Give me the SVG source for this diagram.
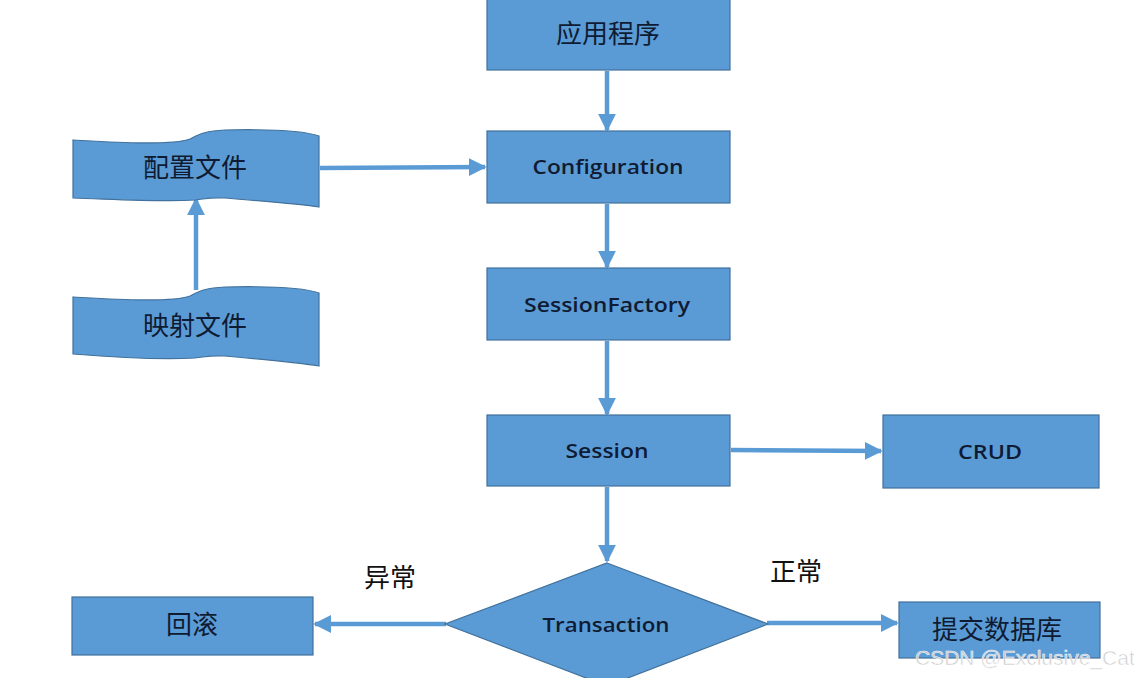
<svg xmlns="http://www.w3.org/2000/svg" width="1134" height="678" viewBox="0 0 1134 678">
<defs>
<marker id="ah" viewBox="0 0 10 10" refX="9" refY="5" markerWidth="4" markerHeight="4" orient="auto" markerUnits="strokeWidth">
<path d="M0,0 L10,5 L0,10 Z" fill="#5b9bd5"/>
</marker>
<style>
.box{fill:#5b9bd5;stroke:#41719c;stroke-width:1.2}
.cjk{font-family:"Noto Sans CJK SC","Noto Sans",sans-serif;font-size:26px;fill:#0f1b33;text-anchor:middle;dominant-baseline:central}
.en{font-family:"Open Sans","Lato",sans-serif;font-size:20px;font-weight:600;fill:#0f1b33;text-anchor:middle;dominant-baseline:central}
.lbl{font-family:"Noto Sans CJK SC","Noto Sans",sans-serif;font-size:26px;fill:#111;text-anchor:middle;dominant-baseline:central}
.conn{stroke:#5b9bd5;stroke-width:4.5;fill:none;marker-end:url(#ah)}
.wm{font-family:"Liberation Sans",Arial,sans-serif;font-size:21px;fill:#c8c8c8;stroke:#ffffff;stroke-width:0.6;opacity:0.9}
</style>
</defs>
<rect width="1134" height="678" fill="#ffffff"/>
<g id="connectors">
<line class="conn" x1="607" y1="71" x2="607" y2="130"/>
<line class="conn" x1="607" y1="204" x2="607" y2="267"/>
<line class="conn" x1="607" y1="341" x2="607" y2="414"/>
<line class="conn" x1="607" y1="487" x2="607" y2="561"/>
<line class="conn" x1="320" y1="168" x2="485" y2="167"/>
<line class="conn" x1="196" y1="290" x2="196" y2="199"/>
<line class="conn" x1="731" y1="450" x2="881" y2="451"/>
<line class="conn" x1="446" y1="624" x2="315" y2="624"/>
<line class="conn" x1="767" y1="623" x2="897" y2="623"/>
</g>
<g id="app"><rect class="box" x="487" y="-2" width="243" height="72"/><text class="cjk" x="608" y="31">应用程序</text></g>
<g id="configuration"><rect class="box" x="487" y="131" width="243" height="72"/><text class="en" x="608" y="166" textLength="151" lengthAdjust="spacingAndGlyphs">Configuration</text></g>
<g id="sessionfactory"><rect class="box" x="487" y="268" width="243" height="72"/><text class="en" x="607" y="304" textLength="166" lengthAdjust="spacingAndGlyphs">SessionFactory</text></g>
<g id="session"><rect class="box" x="487" y="415" width="243" height="71"/><text class="en" x="607" y="450" textLength="83" lengthAdjust="spacingAndGlyphs">Session</text></g>
<g id="crud"><rect class="box" x="883" y="415" width="216" height="73"/><text class="en" x="990" y="451" textLength="64" lengthAdjust="spacingAndGlyphs">CRUD</text></g>
<g id="config-file"><path class="box" d="M73,140 C110,142 170,146 190,139 C200,134 205,131 225,130 C270,129 305,131 319,136 L319,207 C300,204 260,201 225,198 C210,197 205,199 195,200 C160,202 110,199 73,198 Z"/><text class="cjk" x="195" y="165">配置文件</text></g>
<g id="mapping-file"><path class="box" d="M73,297 C110,299 170,303 190,296 C200,291 205,288 225,287 C270,286 305,288 319,293 L319,366 C300,363 260,359 225,356 C210,355 205,357 195,358 C160,360 110,357 73,354 Z"/><text class="cjk" x="195" y="323">映射文件</text></g>
<g id="transaction"><polygon class="box" points="607,563 768,624 607,686 445,624"/><text class="en" x="606" y="624" textLength="127" lengthAdjust="spacingAndGlyphs">Transaction</text></g>
<g id="rollback"><rect class="box" x="72" y="597" width="241" height="58"/><text class="cjk" x="192" y="622">回滚</text></g>
<g id="commit"><rect class="box" x="899" y="602" width="201" height="56"/><text class="cjk" x="997" y="627">提交数据库</text></g>
<text class="lbl" x="390" y="575">异常</text>
<text class="lbl" x="796" y="569">正常</text>
<text class="wm" x="915" y="665">CSDN @Exclusive_Cat</text>
</svg>
